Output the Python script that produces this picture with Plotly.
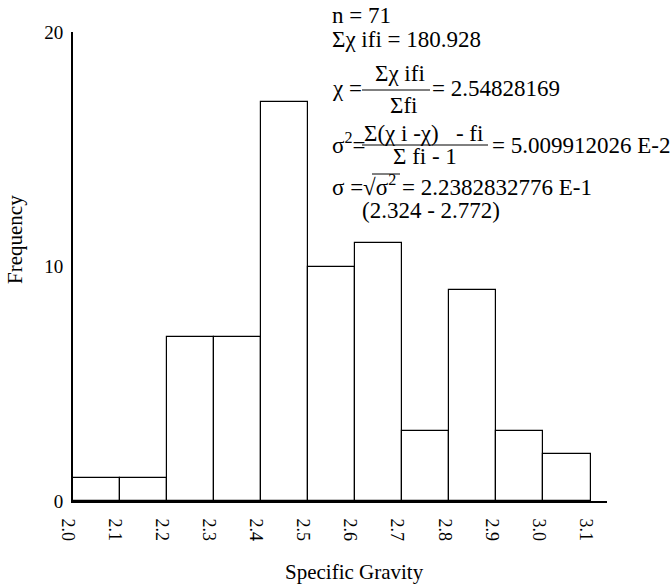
import plotly.graph_objects as go

# Data
bin_left = [2.0, 2.1, 2.2, 2.3, 2.4, 2.5, 2.6, 2.7, 2.8, 2.9, 3.0]
frequency = [1, 1, 7, 7, 17, 10, 11, 3, 9, 3, 2]
bin_width = 0.1
x_ticks = [2.0, 2.1, 2.2, 2.3, 2.4, 2.5, 2.6, 2.7, 2.8, 2.9, 3.0, 3.1]
x_tick_labels = ["2.0", "2.1", "2.2", "2.3", "2.4", "2.5", "2.6", "2.7", "2.8", "2.9", "3.0", "3.1"]
y_ticks = [0, 10, 20]

W, H = 671, 585
L, R, T, B = 73, 64, 32, 84
PW, PH = W - L - R, H - T - B

def px(xp):
    return (xp - L) / PW

def py(yp):
    return (H - B - yp) / PH

FONT = "Liberation Serif, serif"
FS = 23

centers = [b + bin_width / 2 for b in bin_left]

fig = go.Figure()
fig.add_trace(go.Bar(
    x=centers, y=frequency, width=[bin_width] * len(centers),
    marker=dict(color="white", line=dict(color="black", width=1.2)),
    showlegend=False, hoverinfo="x+y",
))

ann = []
def add(text, x, y, xanchor="left", size=FS):
    if xanchor == "left":
        x = x - 2
    ann.append(dict(text=text, x=px(x), y=py(y), xref="paper", yref="paper",
                    xanchor=xanchor, yanchor="middle", showarrow=False,
                    font=dict(family=FONT, size=size, color="black")))

add("n = 71", 332, 15)
add("Σχ ifi = 180.928", 332, 40)
add("χ =", 332, 89)
add("Σχ ifi", 400, 73, "center")
add("Σfi", 403, 106, "center")
add("= 2.54828169", 432, 89)
add("σ<sup>2</sup>=", 332, 143)
add("Σ(χ i -χ)   - fi", 423, 133, "center")
add("Σ fi - 1", 425, 157, "center")
add("= 5.009912026 E-2", 492, 145)
add("σ =√σ<sup>2</sup> = 2.2382832776 E-1", 332, 185)
add("(2.324 - 2.772)", 362, 210)
add("Frequency", 15, 240, "center", 21)
ann[-1]["textangle"] = -90
add("Specific Gravity", 354, 572, "center", 21)

shapes = []
def hline(x0, x1, y):
    shapes.append(dict(type="line", xref="paper", yref="paper",
                       x0=px(x0), x1=px(x1), y0=py(y), y1=py(y),
                       line=dict(color="black", width=1)))
hline(362, 430, 90)
hline(362, 488, 145)
hline(372, 400, 174)

fig.update_layout(
    width=W, height=H,
    margin=dict(l=L, r=R, t=T, b=B, autoexpand=False),
    paper_bgcolor="white", plot_bgcolor="white",
    font=dict(family=FONT, size=18, color="black"),
    bargap=0,
    annotations=ann, shapes=shapes,
    xaxis=dict(range=[2.0, 3.135], tickvals=x_ticks, ticktext=x_tick_labels,
               tickangle=90, showgrid=False, zeroline=False,
               showline=True, linecolor="black", linewidth=2,
               ticks="", ticklabelshift=-5, ticklabelstandoff=12,
               tickfont=dict(family=FONT, size=18)),
    yaxis=dict(range=[0, 20], tickvals=y_ticks, showgrid=False, zeroline=False,
               showline=True, linecolor="black", linewidth=2,
               ticks="", ticklabelstandoff=4,
               tickfont=dict(family=FONT, size=19)),
)

fig.write_html("out.html")
